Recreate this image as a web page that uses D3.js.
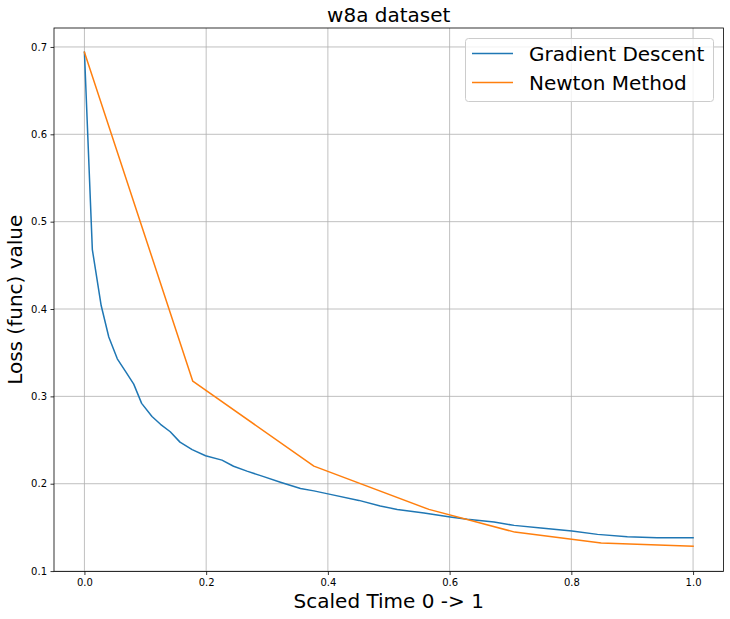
<!DOCTYPE html>
<html>
<head>
<meta charset="utf-8">
<script src="https://cdn.jsdelivr.net/npm/d3@7"></script>
<style>
  body { margin: 0; background: #fff; }
  text { font-family: "DejaVu Sans", sans-serif; }
</style>
</head>
<body>
<div id="chart"></div>
<script>
const width = 730;
const height = 619;

// Gradient Descent (scaled time, loss)
const gdTime = [0, 0.013, 0.0275, 0.04, 0.054, 0.068, 0.081, 0.094, 0.111, 0.125, 0.141, 0.157,
  0.177, 0.199, 0.226, 0.245, 0.267, 0.292, 0.322, 0.355, 0.377, 0.404, 0.451, 0.486, 0.514,
  0.558, 0.601, 0.629, 0.673, 0.706, 0.750, 0.801, 0.843, 0.892, 0.941, 1.0];
const gdLoss = [0.694, 0.468, 0.404, 0.368, 0.343, 0.328, 0.314, 0.292, 0.277, 0.268, 0.2595, 0.2476,
  0.239, 0.232, 0.227, 0.220, 0.2144, 0.2087, 0.2017, 0.1945, 0.1918, 0.1878, 0.1809, 0.1744, 0.1706,
  0.1666, 0.1619, 0.1592, 0.1561, 0.1523, 0.1492, 0.1458, 0.142, 0.1394, 0.1382, 0.1382];

// Newton Method
const nmTime = [0, 0.178, 0.377, 0.566, 0.707, 0.849, 1.0];
const nmLoss = [0.694, 0.3174, 0.2201, 0.1706, 0.1446, 0.132, 0.1283];

const xTicks = [0.0, 0.2, 0.4, 0.6, 0.8, 1.0];
const yTicks = [0.1, 0.2, 0.3, 0.4, 0.5, 0.6, 0.7];
const seriesNames = ["Gradient Descent", "Newton Method"];
const colors = ["#1f77b4", "#ff7f0e"];

const margin = { left: 54, right: 730 - 723.5, top: 28, bottom: 619 - 571.5 };

const x = d3.scaleLinear().domain([-0.05, 1.05]).range([margin.left, width - margin.right]);
const y = d3.scaleLinear().domain([0.0995, 0.7217]).range([height - margin.bottom, margin.top]);

const svg = d3
  .select("#chart")
  .append("svg")
  .attr("width", width)
  .attr("height", height);

// grid
svg.append("g")
  .selectAll("line")
  .data(xTicks)
  .join("line")
  .attr("x1", (d) => x(d)).attr("x2", (d) => x(d))
  .attr("y1", margin.top).attr("y2", height - margin.bottom)
  .attr("stroke", "#b0b0b0").attr("stroke-width", 0.8);

svg.append("g")
  .selectAll("line")
  .data(yTicks)
  .join("line")
  .attr("y1", (d) => y(d)).attr("y2", (d) => y(d))
  .attr("x1", margin.left).attr("x2", width - margin.right)
  .attr("stroke", "#b0b0b0").attr("stroke-width", 0.8);

// axes
const xAxis = svg.append("g")
  .attr("transform", `translate(0,${height - margin.bottom})`)
  .call(d3.axisBottom(x).tickValues(xTicks).tickFormat(d3.format(".1f")).tickSize(3.5).tickPadding(3.5));
const yAxis = svg.append("g")
  .attr("transform", `translate(${margin.left},0)`)
  .call(d3.axisLeft(y).tickValues(yTicks).tickFormat(d3.format(".1f")).tickSize(3.5).tickPadding(3.5));

[xAxis, yAxis].forEach((g) => {
  g.select(".domain").remove();
  g.selectAll("text").style("font-size", "10px").attr("fill", "#000").style("font-family", "DejaVu Sans");
  g.selectAll("line").attr("stroke", "#000").attr("stroke-width", 0.8);
});

// lines
const line = d3.line().x((d) => x(d[0])).y((d) => y(d[1]));
const series = [
  d3.zip(gdTime, gdLoss),
  d3.zip(nmTime, nmLoss)
];

svg.append("g")
  .selectAll("path")
  .data(series)
  .join("path")
  .attr("d", line)
  .attr("fill", "none")
  .attr("stroke", (d, i) => colors[i])
  .attr("stroke-width", 1.5)
  .attr("stroke-linejoin", "round")
  .attr("stroke-linecap", "square");

// frame
svg.append("rect")
  .attr("x", margin.left).attr("y", margin.top)
  .attr("width", width - margin.left - margin.right)
  .attr("height", height - margin.top - margin.bottom)
  .attr("fill", "none").attr("stroke", "#000").attr("stroke-width", 0.8);

// title and labels
svg.append("text")
  .attr("x", (margin.left + width - margin.right) / 2)
  .attr("y", 22)
  .attr("text-anchor", "middle")
  .style("font-size", "20px")
  .text("w8a dataset");

svg.append("text")
  .attr("x", (margin.left + width - margin.right) / 2)
  .attr("y", 608)
  .attr("text-anchor", "middle")
  .style("font-size", "20px")
  .text("Scaled Time 0 -> 1");

svg.append("text")
  .attr("transform", `translate(22,${(margin.top + height - margin.bottom) / 2}) rotate(-90)`)
  .attr("text-anchor", "middle")
  .style("font-size", "20px")
  .text("Loss (func) value");

// legend
const legend = svg.append("g");
legend.append("rect")
  .attr("x", 465.5).attr("y", 38.5)
  .attr("width", 248).attr("height", 63)
  .attr("rx", 3)
  .attr("fill", "#fff").attr("fill-opacity", 0.8)
  .attr("stroke", "#cccccc").attr("stroke-width", 1);

const item = legend.selectAll(".item")
  .data(seriesNames)
  .join("g")
  .attr("class", "item")
  .attr("transform", (d, i) => `translate(0,${53.5 + i * 29})`);

item.append("line")
  .attr("x1", 472).attr("x2", 513)
  .attr("stroke", (d, i) => colors[i])
  .attr("stroke-width", 1.5);

item.append("text")
  .attr("x", 529)
  .attr("y", 7)
  .style("font-size", "20px")
  .text((d) => d);
</script>
</body>
</html>
